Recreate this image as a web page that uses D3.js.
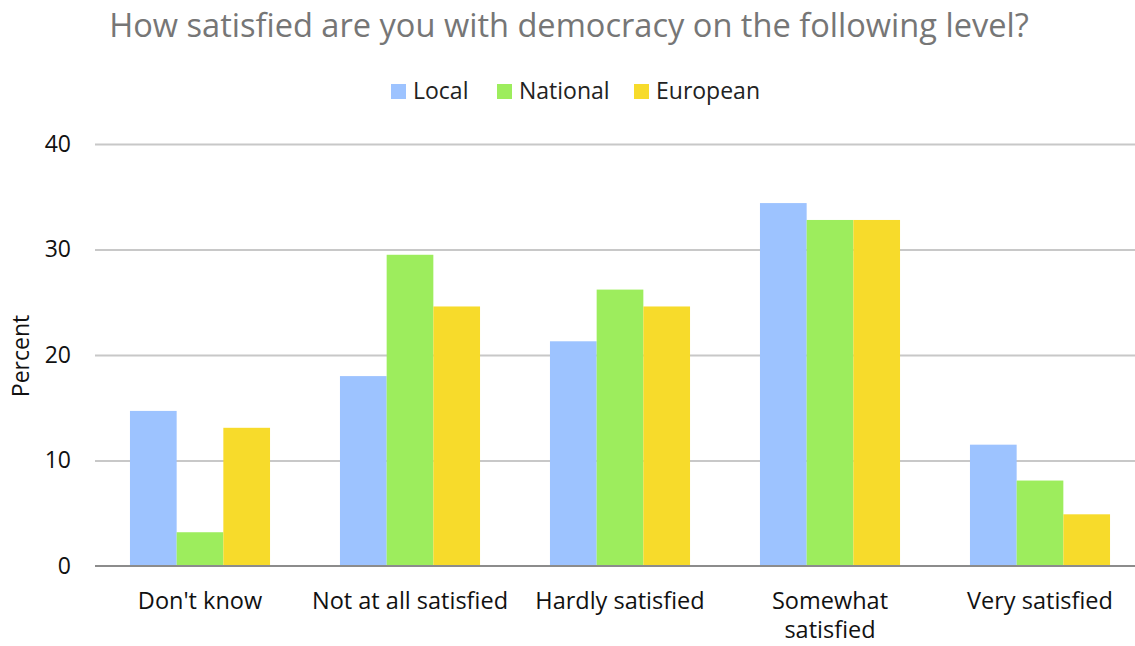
<!DOCTYPE html>
<html>
<head>
<meta charset="utf-8">
<script src="https://cdn.jsdelivr.net/npm/d3@7"></script>
<style>
  html, body { margin: 0; padding: 0; background: #fff; }
  svg { display: block; font-family: "Open Sans", Lato, sans-serif; }
</style>
</head>
<body>
<svg id="chart" width="1135" height="646"></svg>
<script>
// Survey answers, percent of respondents per level of democracy
const categories = ["Don't know", "Not at all satisfied", "Hardly satisfied", "Somewhat satisfied", "Very satisfied"];
const seriesNames = ["Local", "National", "European"];
const localValues = [14.7, 18.0, 21.3, 34.4, 11.5];
const nationalValues = [3.2, 29.5, 26.2, 32.8, 8.1];
const europeanValues = [13.1, 24.6, 24.6, 32.8, 4.9];
const yTicks = [0, 10, 20, 30, 40];
const colors = ["#9dc3ff", "#9ded5d", "#f7db2b"];

const series = [localValues, nationalValues, europeanValues];
const rows = categories.map((c, i) => ({
  category: c,
  values: seriesNames.map((s, k) => ({ key: s, value: series[k][i] }))
}));

const svg = d3.select("#chart");
const W = 1135, H = 646;
const plot = { left: 95, right: 1145, top: 144, bottom: 566 };

const x0 = d3.scaleBand().domain(categories).range([plot.left, plot.right]).paddingInner(0.333).paddingOuter(0.1665);
const x1 = d3.scaleBand().domain(seriesNames).range([0, x0.bandwidth()]);
const y = d3.scaleLinear().domain([0, 40]).range([plot.bottom, plot.top]);
const color = d3.scaleOrdinal().domain(seriesNames).range(colors);

// Title
svg.append("text")
  .attr("x", 569).attr("y", 37)
  .attr("text-anchor", "middle")
  .attr("fill", "#767676")
  .attr("font-size", 32.6)
  .text("How satisfied are you with democracy on the following level?");

// Legend
const legendItems = [
  { key: "Local", x: 391 },
  { key: "National", x: 497 },
  { key: "European", x: 634 }
];
const lg = svg.append("g");
legendItems.forEach(d => {
  lg.append("rect").attr("x", d.x).attr("y", 84).attr("width", 15).attr("height", 15).attr("fill", color(d.key));
  lg.append("text").attr("x", d.x + 22).attr("y", 99).attr("font-size", 23).attr("fill", "#222").text(d.key);
});

// Gridlines
const grid = svg.append("g")
  .attr("transform", `translate(${plot.left},0)`)
  .call(d3.axisLeft(y).tickValues(yTicks.filter(t => t > 0)).tickSize(-(W - plot.left)).tickFormat(""));
grid.select(".domain").remove();
grid.selectAll("line").attr("stroke", "#c8c8c8").attr("stroke-width", 2);

// Y axis labels
const yAxis = svg.append("g")
  .attr("transform", `translate(${plot.left},0)`)
  .call(d3.axisLeft(y).tickValues(yTicks).tickSize(0).tickPadding(24).tickFormat(d3.format("d")));
yAxis.select(".domain").remove();
yAxis.selectAll("text").attr("font-size", 23).attr("fill", "#111").attr("font-family", "'Open Sans', sans-serif");

svg.append("text")
  .attr("transform", `translate(29,356) rotate(-90)`)
  .attr("text-anchor", "middle")
  .attr("font-size", 23)
  .attr("fill", "#111")
  .text("Percent");

// Bars
svg.append("g").selectAll("g")
  .data(rows).join("g")
  .attr("transform", d => `translate(${x0(d.category)},0)`)
  .selectAll("rect")
  .data(d => d.values).join("rect")
  .attr("x", d => x1(d.key))
  .attr("width", x1.bandwidth())
  .attr("y", d => y(d.value))
  .attr("height", d => y(0) - y(d.value))
  .attr("fill", d => color(d.key));

// Baseline
svg.append("line")
  .attr("x1", plot.left).attr("x2", W)
  .attr("y1", y(0)).attr("y2", y(0))
  .attr("stroke", "#8c8c8c").attr("stroke-width", 2);

// Category labels (wrapped where the source breaks them)
const labelLines = {
  "Somewhat satisfied": ["Somewhat", "satisfied"]
};
const xl = svg.append("g");
categories.forEach(c => {
  const lines = labelLines[c] || [c];
  const t = xl.append("text")
    .attr("x", x0(c) + x0.bandwidth() / 2)
    .attr("y", 609)
    .attr("text-anchor", "middle")
    .attr("font-size", 23.5)
    .attr("fill", "#111");
  lines.forEach((l, i) => {
    t.append("tspan").attr("x", x0(c) + x0.bandwidth() / 2).attr("dy", i === 0 ? 0 : 29).text(l);
  });
});
</script>
</body>
</html>
